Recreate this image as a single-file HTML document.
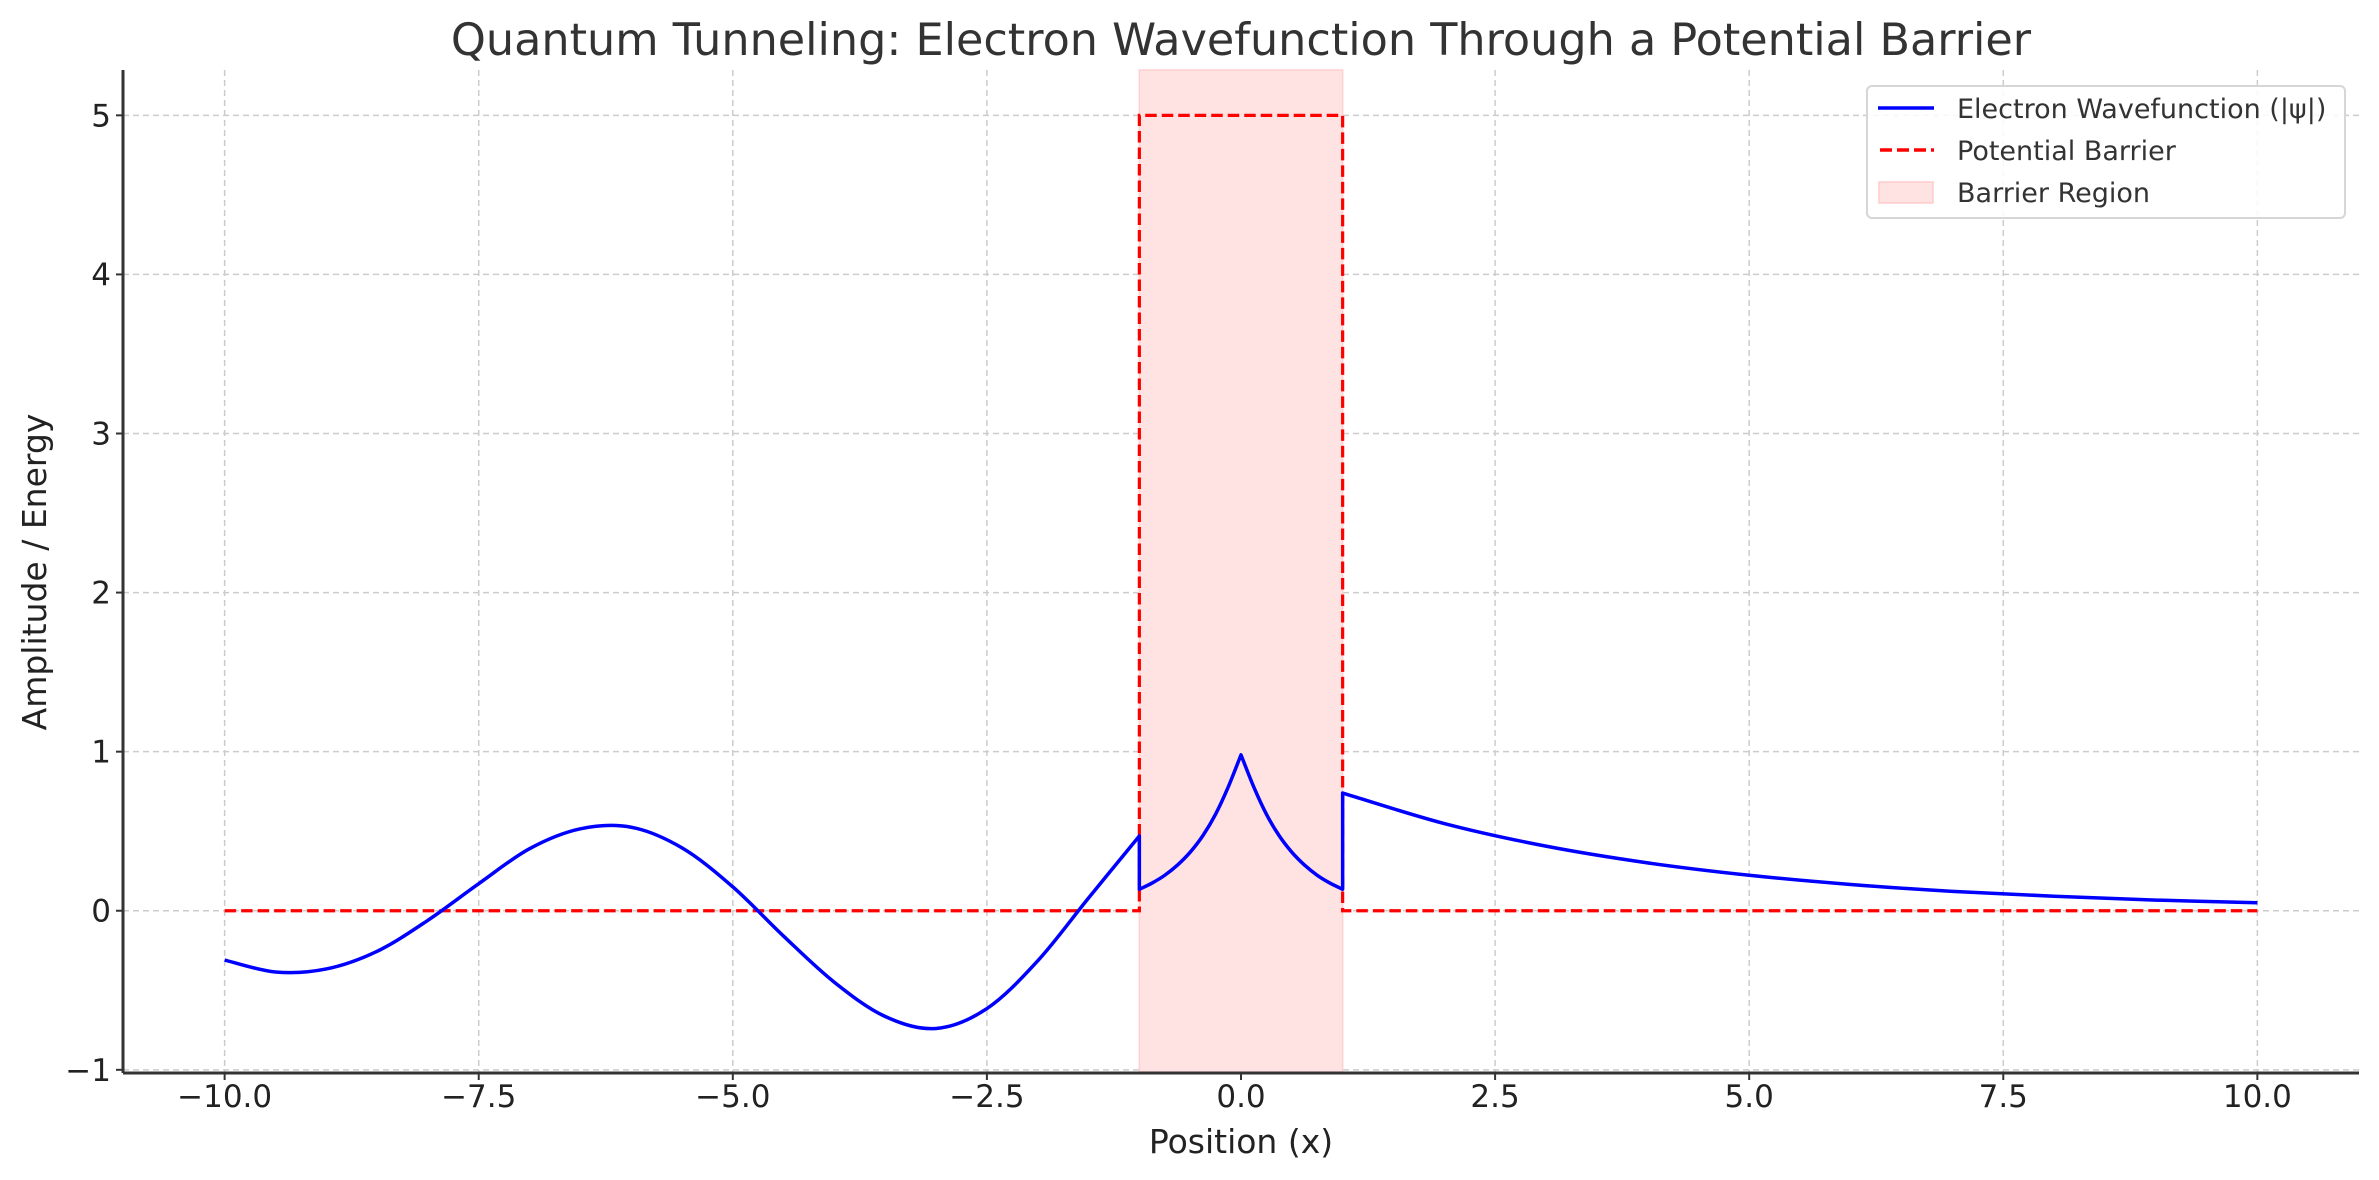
<!DOCTYPE html>
<html><head><meta charset="utf-8"><style>
html,body{margin:0;padding:0;background:#fff;}
svg{display:block;font-family:"DejaVu Sans","Liberation Sans",sans-serif;}
</style></head><body>
<svg id="chart" width="2379" height="1180" viewBox="0 0 2379 1180" xmlns="http://www.w3.org/2000/svg">
<text x="1241" y="55" text-anchor="middle" font-size="44.5" fill="#333">Quantum Tunneling: Electron Wavefunction Through a Potential Barrier</text>
<g id="grid"></g>
<g id="region"></g>
<g id="series"></g>
<g id="axes"></g>
<text x="1241" y="1153" text-anchor="middle" font-size="33" fill="#222">Position (x)</text>
<text transform="translate(46,572) rotate(-90)" text-anchor="middle" font-size="33" fill="#222">Amplitude / Energy</text>
<g>
<rect x="1867" y="86" width="478" height="132" rx="5" fill="#fff" fill-opacity="0.85" stroke="#d6d6d6" stroke-width="2"/>
<line x1="1878" y1="108" x2="1934" y2="108" stroke="#0000ff" stroke-width="3.5"/>
<text x="1957" y="118" font-size="27" fill="#333">Electron Wavefunction (|ψ|)</text>
<line x1="1880" y1="150" x2="1934" y2="150" stroke="#ff0000" stroke-width="3.5" stroke-dasharray="12,5"/>
<text x="1957" y="160" font-size="27" fill="#333">Potential Barrier</text>
<rect x="1879" y="182" width="54" height="21" fill="#ffe3e3" stroke="#ffcccc" stroke-width="1.5"/>
<text x="1957" y="202" font-size="27" fill="#333">Barrier Region</text>
</g>
</svg>
<script>
const xTicks=[-10,-7.5,-5,-2.5,0,2.5,5,7.5,10];
const xTickLabels=["\u221210.0","\u22127.5","\u22125.0","\u22122.5","0.0","2.5","5.0","7.5","10.0"];
const yTicks=[-1,0,1,2,3,4,5];
const yTickLabels=["\u22121","0","1","2","3","4","5"];
const psiLeftX=[-10,-9.5,-9,-8.5,-8,-7.5,-7,-6.5,-6,-5.5,-5,-4.5,-4,-3.5,-3,-2.5,-2,-1.5,-1];
const psiLeftY=[-0.31,-0.385,-0.366,-0.255,-0.06,0.17,0.39,0.515,0.525,0.395,0.15,-0.16,-0.45,-0.665,-0.74,-0.615,-0.315,0.08,0.47];
const psiInLX=[-1,-0.875,-0.75,-0.625,-0.5,-0.375,-0.25,-0.125,0];
const psiInLY=[0.135,0.174,0.223,0.287,0.368,0.472,0.607,0.779,0.98];
const psiInRX=[0,0.125,0.25,0.375,0.5,0.625,0.75,0.875,1];
const psiInRY=[0.98,0.779,0.607,0.472,0.368,0.287,0.223,0.174,0.135];
const psiRightX=[1,2,3,4,5,6,7,8,9,10];
const psiRightY=[0.74,0.548,0.406,0.301,0.223,0.165,0.122,0.091,0.067,0.05];
const barrierX=[-10,-1,-1,1,1,10];
const barrierV=[0,0,5,5,0,0];
const regionX=[-1,1];

const XMIN=-11,XMAX=11,YMIN=-1.02,YMAX=5.285;
const L=123,R=2359,T=70,B=1073;
const sx=v=>L+(v-XMIN)/(XMAX-XMIN)*(R-L);
const sy=v=>B-(v-YMIN)/(YMAX-YMIN)*(B-T);
const NS="http://www.w3.org/2000/svg";
function mk(tag,attrs,parent){const e=document.createElementNS(NS,tag);for(const k in attrs)e.setAttribute(k,attrs[k]);parent.appendChild(e);return e;}
const grid=document.getElementById('grid'),axes=document.getElementById('axes');
xTicks.forEach((t,i)=>{
  const g=mk('line',{x1:sx(t),x2:sx(t),y1:T,y2:B,stroke:'#cccccc','stroke-width':1.5,'stroke-dasharray':'6,4'},grid);
  
  
  const tk=mk('line',{x1:sx(t),x2:sx(t),y1:B,y2:B+7,stroke:'#333','stroke-width':2},axes);
  
  
  const lb=mk('text',{x:sx(t),y:B+34,'text-anchor':'middle','font-size':31,fill:'#222'},axes);
  lb.textContent=xTickLabels[i];
  
  
});
yTicks.forEach((t,i)=>{
  const g=mk('line',{x1:L,x2:R,y1:sy(t),y2:sy(t),stroke:'#cccccc','stroke-width':1.5,'stroke-dasharray':'6,4'},grid);
  
  
  const tk=mk('line',{x1:L-7,x2:L,y1:sy(t),y2:sy(t),stroke:'#333','stroke-width':2},axes);
  
  
  const lb=mk('text',{x:L-12,y:sy(t)+11,'text-anchor':'end','font-size':31,fill:'#222'},axes);
  lb.textContent=yTickLabels[i];
  
  
});
const sp1=mk('line',{x1:L,x2:L,y1:T,y2:B,stroke:'#333','stroke-width':3},axes);


const sp2=mk('line',{x1:L,x2:R,y1:B,y2:B,stroke:'#333','stroke-width':3},axes);



const reg=mk('rect',{x:sx(regionX[0]),y:T,width:sx(regionX[1])-sx(regionX[0]),height:B-T,fill:'#ffe3e3',stroke:'#ffd0d0','stroke-width':1.5},document.getElementById('region'));



function smooth(xs,ys,first){
  const p=xs.map((x,i)=>[sx(x),sy(ys[i])]);
  let d=(first?'M':'L')+p[0][0].toFixed(2)+','+p[0][1].toFixed(2);
  for(let i=0;i<p.length-1;i++){
    const p0=p[Math.max(0,i-1)],p1=p[i],p2=p[i+1],p3=p[Math.min(p.length-1,i+2)];
    const c1=[p1[0]+(p2[0]-p0[0])/6,p1[1]+(p2[1]-p0[1])/6];
    const c2=[p2[0]-(p3[0]-p1[0])/6,p2[1]-(p3[1]-p1[1])/6];
    d+=`C${c1[0].toFixed(2)},${c1[1].toFixed(2)} ${c2[0].toFixed(2)},${c2[1].toFixed(2)} ${p2[0].toFixed(2)},${p2[1].toFixed(2)}`;
  }
  return d;
}
const series=document.getElementById('series');
const bd=barrierX.map((x,i)=>(i?'L':'M')+sx(x)+','+sy(barrierV[i])).join('');
const bp=mk('path',{d:bd,fill:'none',stroke:'#ff0000','stroke-width':3.2,'stroke-dasharray':'11.5,5'},series);


const wd=smooth(psiLeftX,psiLeftY,true)+smooth(psiInLX,psiInLY,false)+smooth(psiInRX,psiInRY,false)+smooth(psiRightX,psiRightY,false);
const wp=mk('path',{d:wd,fill:'none',stroke:'#0000ff','stroke-width':3.5,'stroke-linejoin':'round'},series);


</script>
</body></html>
